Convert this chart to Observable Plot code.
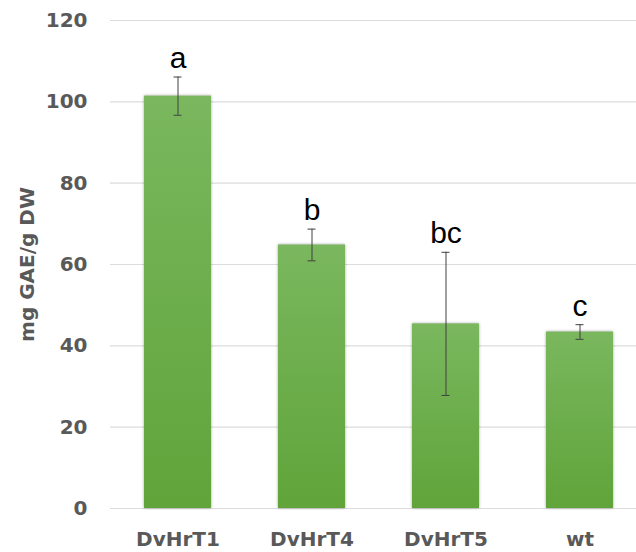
<!DOCTYPE html>
<html>
<head>
<meta charset="utf-8">
<script src="https://cdn.jsdelivr.net/npm/d3@7"></script>
<script src="https://cdn.jsdelivr.net/npm/@observablehq/plot@0.6"></script>
<style>
  html, body { margin: 0; padding: 0; background: #fff; }
</style>
</head>
<body>
<div id="chart"></div>
<script>
const categories = ["DvHrT1", "DvHrT4", "DvHrT5", "wt"];
const values = [101.4, 64.8, 45.4, 43.4];
const errors = [4.7, 3.9, 17.6, 1.8];
const letters = ["a", "b", "bc", "c"];
const yTicks = [0, 20, 40, 60, 80, 100, 120];
const yLabel = "mg GAE/g DW";

const data = categories.map((c, i) => ({
  cat: c, value: values[i], err: errors[i], letter: letters[i],
  lo: values[i] - errors[i], hi: values[i] + errors[i]
}));

const chart = Plot.plot({
  width: 636,
  height: 552,
  marginLeft: 110,
  marginRight: 0,
  marginTop: 20,
  marginBottom: 44,
  style: {fontFamily: "DejaVu Sans", fontSize: "20px", fontWeight: "bold", color: "#595959", background: "#fff", overflow: "visible"},
  x: {domain: categories, range: [110, 646], paddingInner: 0.5, paddingOuter: 0.25, tickSize: 0, tickPadding: 23, label: null},
  y: {domain: [0, 120], ticks: yTicks, tickSize: 0, tickPadding: 23, label: yLabel, labelAnchor: "center", labelOffset: 91, labelArrow: "none"},
  marks: [
    Plot.ruleY(yTicks, {stroke: "#dcdcdc", strokeWidth: 1.2}),
    Plot.barY(data, {x: "cat", y: "value", fill: "url(#barGrad)"}),
    Plot.ruleX(data, {x: "cat", y1: "lo", y2: "hi", stroke: "#404040", strokeWidth: 1}),
    Plot.tickY(data, {x: "cat", y: "lo", stroke: "#404040", strokeWidth: 1, insetLeft: 29.5, insetRight: 29.5}),
    Plot.tickY(data, {x: "cat", y: "hi", stroke: "#404040", strokeWidth: 1, insetLeft: 29.5, insetRight: 29.5}),
    Plot.text(data, {x: "cat", y: "hi", text: "letter", lineAnchor: "bottom", dy: -9, fill: "#000", fontSize: 30, fontWeight: "normal", fontFamily: "Liberation Sans"})
  ]
});

const svg = d3.select(chart);
const defs = svg.insert("defs", ":first-child");
const grad = defs.append("linearGradient").attr("id", "barGrad").attr("x1", 0).attr("y1", 0).attr("x2", 0).attr("y2", 1);
grad.append("stop").attr("offset", "0%").attr("stop-color", "#7ab75e");
grad.append("stop").attr("offset", "100%").attr("stop-color", "#60a43a");
svg.selectAll("g[aria-label='bar']").style("filter", "drop-shadow(0px 0px 1.5px rgba(0,0,0,0.35))");

document.getElementById("chart").appendChild(chart);
</script>
</body>
</html>
